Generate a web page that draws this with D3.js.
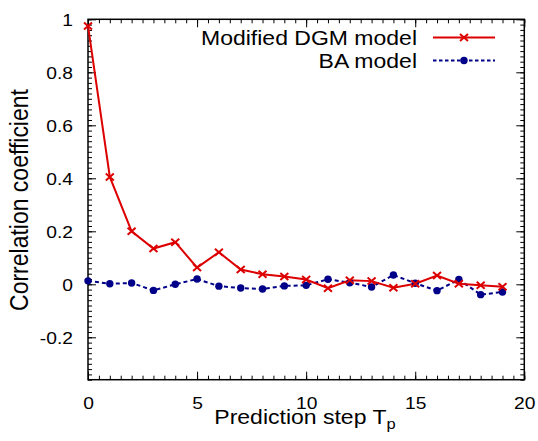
<!DOCTYPE html>
<html>
<meta charset="utf-8">
<title>Correlation coefficient vs prediction step</title>
<style>
body { margin: 0; background: #fff; }
text { font-family: "Liberation Sans", Arial, sans-serif; fill: #000; }
.frame { fill: none; stroke: #000; stroke-width: 1.5px; }
.tick line { stroke: #000; stroke-width: 1px; }
.line { fill: none; stroke-width: 2px; }
</style>
<script src="https://d3js.org/d3.v7.min.js"></script>
<body>
<script>
// values
const steps = [0, 1, 2, 3, 4, 5, 6, 7, 8, 9, 10, 11, 12, 13, 14, 15, 16, 17, 18, 19];
const dgm = [0.975, 0.405, 0.200, 0.135, 0.159, 0.063, 0.121, 0.056, 0.038, 0.029,
             0.018, -0.015, 0.015, 0.012, -0.013, 0.002, 0.033, 0.002, -0.004, -0.009];
const ba = [0.013, 0.002, 0.005, -0.023, 0.000, 0.020, -0.007, -0.014, -0.018, -0.006,
            -0.004, 0.019, 0.006, -0.010, 0.035, 0.004, -0.024, 0.018, -0.039, -0.029];
const xTicks = [0, 5, 10, 15, 20];
const yTicks = [-0.2, 0, 0.2, 0.4, 0.6, 0.8, 1];
const seriesNames = ["Modified DGM model", "BA model"];

const width = 538, height = 441;
const plotLeft = 88, plotRight = 524.3, plotTop = 19.3, plotBottom = 379.7;
const sx = 1.18; // the picture is stretched sideways
const red = "#dd0000", blue = "#000088";

const x = d3.scaleLinear().domain([0, 20]).range([plotLeft, plotRight]);
const y = d3.scaleLinear().domain([-0.36, 1]).range([plotBottom, plotTop]);

const svg = d3.select("body").append("svg")
    .attr("width", width)
    .attr("height", height);

// minor ticks on all four sides
const xMinor = d3.range(0, 20.01, 0.5);
const yMinor = d3.range(-0.36, 1.001, 0.02).map(v => Math.round(v * 100) / 100);
svg.append("g").attr("transform", `translate(0,${plotBottom})`)
    .call(d3.axisBottom(x).tickValues(xMinor).tickSize(-4).tickFormat(""));
svg.append("g").attr("transform", `translate(0,${plotTop})`)
    .call(d3.axisTop(x).tickValues(xMinor).tickSize(-4).tickFormat(""));
svg.append("g").attr("transform", `translate(${plotLeft},0)`)
    .call(d3.axisLeft(y).tickValues(yMinor).tickSize(-4).tickFormat(""));
svg.append("g").attr("transform", `translate(${plotRight},0)`)
    .call(d3.axisRight(y).tickValues(yMinor).tickSize(-4).tickFormat(""));

// major ticks
svg.append("g").attr("transform", `translate(0,${plotTop})`)
    .call(d3.axisTop(x).tickValues(xTicks).tickSize(-8).tickFormat(""));
svg.append("g").attr("transform", `translate(${plotRight},0)`)
    .call(d3.axisRight(y).tickValues(yTicks).tickSize(-8).tickFormat(""));

const xAxis = svg.append("g").attr("transform", `translate(0,${plotBottom})`)
    .call(d3.axisBottom(x).tickValues(xTicks).tickSize(-8).tickFormat(d => String(d)));
xAxis.selectAll("text")
    .attr("y", null).attr("dy", null)
    .attr("font-size", 16.3)
    .attr("transform", `translate(0,29.5) scale(${sx},1)`);

const yAxis = svg.append("g").attr("transform", `translate(${plotLeft},0)`)
    .call(d3.axisLeft(y).tickValues(yTicks).tickSize(-8).tickFormat(d => String(d)));
yAxis.selectAll("text")
    .attr("x", null).attr("dy", null)
    .attr("font-size", 16.3)
    .attr("transform", `translate(-15,5.8) scale(${sx},1)`);

svg.selectAll(".domain").remove();

svg.append("rect").attr("class", "frame")
    .attr("x", plotLeft).attr("y", plotTop)
    .attr("width", plotRight - plotLeft).attr("height", plotBottom - plotTop);

// lines
const line = d3.line()
    .x((d, i) => x(steps[i]))
    .y(d => y(d));

svg.append("path").datum(ba)
    .attr("class", "line")
    .attr("stroke", blue)
    .attr("stroke-dasharray", "4,3")
    .attr("d", line);

svg.append("path").datum(dgm)
    .attr("class", "line")
    .attr("stroke", red)
    .attr("d", line);

const cross = "M-4,-3.5L4,3.5M-4,3.5L4,-3.5";

svg.append("g").selectAll("circle").data(ba).join("circle")
    .attr("cx", (d, i) => x(steps[i]))
    .attr("cy", d => y(d))
    .attr("r", 3.7)
    .attr("fill", blue);

svg.append("g").selectAll("path").data(dgm).join("path")
    .attr("transform", (d, i) => `translate(${x(steps[i])},${y(d)})`)
    .attr("d", cross)
    .attr("stroke", red)
    .attr("stroke-width", 2)
    .attr("fill", "none");

// legend
const legend = svg.append("g");
const rowY = [37.5, 60.5];
seriesNames.forEach((name, i) => {
  legend.append("text")
    .attr("text-anchor", "end")
    .attr("font-size", 19.5)
    .attr("transform", `translate(417,${rowY[i] + 7}) scale(${sx},1)`)
    .text(name);
  legend.append("line")
    .attr("x1", 433).attr("x2", 495)
    .attr("y1", rowY[i]).attr("y2", rowY[i])
    .attr("stroke", i === 0 ? red : blue)
    .attr("stroke-width", 2)
    .attr("stroke-dasharray", i === 0 ? null : "3.5,2.5");
});
legend.append("path")
    .attr("transform", `translate(464,${rowY[0]})`)
    .attr("d", cross)
    .attr("stroke", red).attr("stroke-width", 2).attr("fill", "none");
legend.append("circle")
    .attr("cx", 464).attr("cy", rowY[1]).attr("r", 3.7)
    .attr("fill", blue);

// axis titles
const xTitle = svg.append("text")
    .attr("text-anchor", "middle")
    .attr("font-size", 19.5)
    .attr("transform", `translate(305,424) scale(${sx},1)`);
xTitle.append("tspan").text("Prediction step T");
xTitle.append("tspan").attr("font-size", 14).attr("dy", 5).text("p");

svg.append("text")
    .attr("text-anchor", "middle")
    .attr("font-size", 23)
    .attr("transform", `translate(28,200) scale(1.1,1) rotate(-90)`)
    .text("Correlation coefficient");
</script>
</body>
</html>
